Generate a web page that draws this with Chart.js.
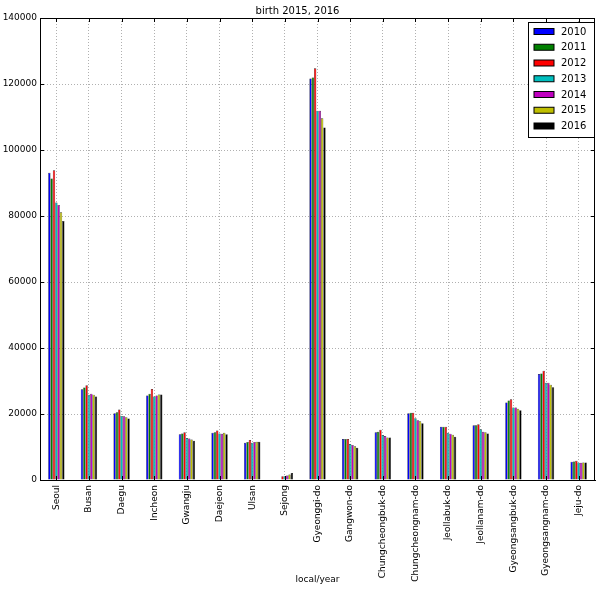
<!DOCTYPE html>
<html>
<head>
<meta charset="utf-8">
<script src="https://cdn.jsdelivr.net/npm/chart.js@4"></script>
<style>
  html, body { margin: 0; padding: 0; background: #fff; }
  #wrap { width: 600px; height: 590px; }
</style>
</head>
<body>
<div id="wrap"><canvas id="grafica" width="600" height="590"></canvas></div>
<script>
const regiones = ['Seoul', 'Busan', 'Daegu', 'Incheon', 'Gwangju', 'Daejeon', 'Ulsan', 'Sejong',
    'Gyeonggi-do', 'Gangwon-do', 'Chungcheongbuk-do', 'Chungcheongnam-do', 'Jeollabuk-do',
    'Jeollanam-do', 'Gyeongsangbuk-do', 'Gyeongsangnam-do', 'Jeju-do'];

const anios = ['2010', '2011', '2012', '2013', '2014', '2015', '2016'];
const colores = ['#0000ff', '#008000', '#ff0000', '#00bfbf', '#bf00bf', '#bfbf00', '#000000'];

const nac2010 = [93100, 27500, 20200, 25600, 13900, 14300, 11300, 0, 121700, 12400, 14500, 20200, 16100, 16600, 23500, 32100, 5500];
const nac2011 = [91400, 28000, 20500, 26100, 14100, 14500, 11500, 0, 122000, 12400, 14600, 20400, 16100, 16600, 24100, 32300, 5600];
const nac2012 = [93900, 28700, 21400, 27600, 14500, 15000, 12100, 1100, 124800, 12400, 15200, 20400, 16100, 16900, 24500, 33100, 5800];
const nac2013 = [84100, 25800, 19400, 25300, 12700, 14100, 11300, 1100, 111900, 10900, 13600, 18700, 14300, 15400, 22000, 29500, 5200];
const nac2014 = [83300, 26100, 19300, 25600, 12600, 14000, 11500, 1400, 111900, 10600, 13300, 18100, 14000, 14600, 22000, 29500, 5200];
const nac2015 = [81100, 25800, 19000, 25900, 12300, 14300, 11600, 1700, 109600, 10200, 12900, 17800, 13700, 14500, 21600, 28900, 5300];
const nac2016 = [78500, 25300, 18600, 25900, 11900, 13900, 11600, 2100, 106800, 9800, 12900, 17200, 13100, 14100, 21100, 28100, 5300];

const yTicks = [0, 20000, 40000, 60000, 80000, 100000, 120000, 140000];

const series = [nac2010, nac2011, nac2012, nac2013, nac2014, nac2015, nac2016];
const fuente = 'DejaVu Sans';

// marco, marcas hacia dentro y leyenda dentro del area, como en matplotlib
const leyendaDentro = {
    id: 'leyendaDentro',
    afterDraw(chart) {
        const ctx = chart.ctx;
        const area = chart.chartArea;
        const sx = chart.scales.x, sy = chart.scales.y;
        ctx.save();
        ctx.strokeStyle = '#000';
        ctx.lineWidth = 1;
        ctx.strokeRect(area.left + 0.5, area.top + 0.5, area.right - area.left - 1, area.bottom - area.top);

        // marcas de los ejes
        ctx.beginPath();
        regiones.forEach((_, i) => {
            const px = Math.round(sx.getPixelForValue(i)) + 0.5;
            ctx.moveTo(px, area.bottom); ctx.lineTo(px, area.bottom - 4);
            ctx.moveTo(px, area.top); ctx.lineTo(px, area.top + 4);
        });
        yTicks.forEach(v => {
            const py = Math.round(sy.getPixelForValue(v)) + 0.5;
            ctx.moveTo(area.left, py); ctx.lineTo(area.left + 4, py);
            ctx.moveTo(area.right, py); ctx.lineTo(area.right - 4, py);
        });
        ctx.stroke();

        const x0 = 528.5, y0 = 22.5, w = 66, h = 115;
        ctx.fillStyle = '#fff';
        ctx.fillRect(x0, y0, w, h);
        ctx.strokeRect(x0, y0, w, h);
        ctx.font = '10px "' + fuente + '"';
        ctx.textBaseline = 'middle';
        chart.data.datasets.forEach((ds, i) => {
            const cy = 31.5 + i * 15.75;
            ctx.fillStyle = ds.backgroundColor;
            ctx.fillRect(534, cy - 3, 20, 6);
            ctx.strokeRect(534, cy - 3, 20, 6);
            ctx.fillStyle = '#000';
            ctx.fillText(ds.label, 561, cy + 0.5);
        });
        ctx.restore();
    }
};

new Chart(document.getElementById('grafica').getContext('2d'), {
    type: 'bar',
    data: {
        labels: regiones,
        datasets: anios.map((a, i) => ({
            label: a,
            data: series[i],
            backgroundColor: colores[i],
            borderColor: '#000',
            borderWidth: 0.5,
            categoryPercentage: 0.5,
            barPercentage: 1.0
        }))
    },
    options: {
        responsive: false,
        animation: false,
        devicePixelRatio: 1,
        layout: { padding: { left: 0, right: 5, top: 0, bottom: 0 } },
        plugins: {
            legend: { display: false },
            tooltip: { enabled: false },
            title: {
                display: true,
                text: 'birth 2015, 2016',
                color: '#000',
                font: { family: fuente, size: 10, weight: 'normal' },
                padding: { top: 5, bottom: 1 }
            }
        },
        scales: {
            x: {
                offset: true,
                grid: { offset: false, color: '#b0b0b0', drawTicks: false },
                border: { display: true, color: '#000', dash: [1, 2] },
                ticks: {
                    color: '#000',
                    font: { family: fuente, size: 9 },
                    minRotation: 90,
                    maxRotation: 90,
                    autoSkip: false,
                    padding: 5
                },
                title: {
                    display: true,
                    text: 'local/year',
                    color: '#000',
                    font: { family: fuente, size: 9 },
                    padding: { top: 0, bottom: 5 }
                },
                afterFit(scale) { scale.height = 110; }
            },
            y: {
                min: 0,
                max: 140000,
                afterBuildTicks(scale) { scale.ticks = yTicks.map(v => ({ value: v })); },
                grid: { color: '#b0b0b0', drawTicks: false },
                border: { display: true, color: '#000', dash: [1, 2] },
                ticks: {
                    color: '#000',
                    font: { family: fuente, size: 9 },
                    padding: 3,
                    callback: v => String(v)
                },
                afterFit(scale) { scale.width = 40; }
            }
        }
    },
    plugins: [leyendaDentro]
});
</script>
</body>
</html>
